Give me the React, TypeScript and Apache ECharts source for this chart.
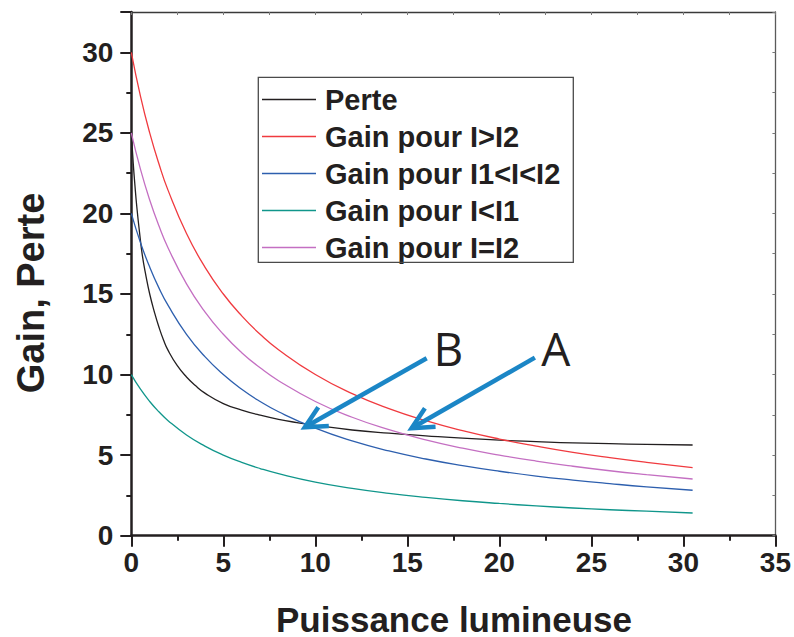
import React, { useEffect, useRef } from "react";
import * as echarts from "echarts";

// ---- data ----
const seriesNames = [
  "Perte",
  "Gain pour I>I2",
  "Gain pour I1<I<I2",
  "Gain pour I<I1",
  "Gain pour I=I2",
];
const seriesColors = ["#231f20", "#f03a3f", "#2d5fae", "#10968b", "#c46fc2"];

const xPerte = [0, 0.1, 0.2, 0.3, 0.45, 0.6, 0.8, 1, 1.25, 1.5, 1.75, 2, 2.5, 3, 3.5, 4, 5, 6, 7, 8, 9, 10, 12, 14, 16, 18, 20, 22, 24, 26, 28, 30.5];
const perte = [25.0, 23.2, 21.7, 20.4, 18.8, 17.4, 16.1, 15.0, 13.9, 12.95, 12.15, 11.5, 10.55, 9.85, 9.3, 8.85, 8.2, 7.8, 7.48, 7.22, 7.02, 6.85, 6.56, 6.36, 6.2, 6.05, 5.93, 5.84, 5.76, 5.71, 5.67, 5.63];

const xGain = [0, 0.5, 1, 1.5, 2, 3, 4, 5, 6, 7, 8, 10, 12, 14, 16, 18, 20, 22, 24, 26, 28, 30.5];
const gainHigh = [30, 27.27, 25, 23.08, 21.43, 18.75, 16.67, 15, 13.64, 12.5, 11.54, 10, 8.82, 7.89, 7.14, 6.52, 6, 5.56, 5.17, 4.84, 4.55, 4.23];
const gainMid = [20, 18.18, 16.67, 15.38, 14.29, 12.5, 11.11, 10, 9.09, 8.33, 7.69, 6.67, 5.88, 5.26, 4.76, 4.35, 4, 3.7, 3.45, 3.23, 3.03, 2.82];
const gainLow = [10, 9.09, 8.33, 7.69, 7.14, 6.25, 5.56, 5, 4.55, 4.17, 3.85, 3.33, 2.94, 2.63, 2.38, 2.17, 2, 1.85, 1.72, 1.61, 1.52, 1.41];
const gainEq = [25, 22.73, 20.83, 19.23, 17.86, 15.63, 13.89, 12.5, 11.36, 10.42, 9.62, 8.33, 7.35, 6.58, 5.95, 5.43, 5, 4.63, 4.31, 4.03, 3.79, 3.52];

const xAxisTitle = "Puissance lumineuse";
const yAxisTitle = "Gain, Perte";

// annotations (data coordinates)
const arrowLabels = ["B", "A"];
const arrowTails = [[16.05, 11.01], [21.93, 11.05]];
const arrowTips = [[9.43, 6.73], [15.23, 6.67]];
const labelPos = [[17.23, 11.62], [23.07, 11.62]];

const FONT = "'Liberation Sans', Arial, Helvetica, sans-serif";
const AXIS_COLOR = "#231f20";
const ARROW_COLOR = "#1b86c6";

function zip(xs: number[], ys: number[]) {
  return xs.map((x, i) => [x, ys[i]]);
}

export default function App() {
  const ref = useRef<HTMLDivElement>(null);
  useEffect(() => {
    if (!ref.current) return;
    const chart = echarts.init(ref.current, null, { renderer: "svg" });
    const dataSets = [
      zip(xPerte, perte),
      zip(xGain, gainHigh),
      zip(xGain, gainMid),
      zip(xGain, gainLow),
      zip(xGain, gainEq),
    ];
    const option: any = {
      animation: false,
      backgroundColor: "#ffffff",
      grid: { left: 131.3, right: 18.3, top: 12, bottom: 101.3, containLabel: false },
      xAxis: [
        {
          type: "value",
          min: 0,
          max: 35,
          interval: 5,
          axisLine: { show: true, onZero: false, lineStyle: { color: AXIS_COLOR, width: 2.5 } },
          axisTick: { show: true, inside: false, length: 11, lineStyle: { color: AXIS_COLOR, width: 2 } },
          minorTick: { show: true, splitNumber: 2, length: 5, lineStyle: { color: AXIS_COLOR, width: 2 } },
          splitLine: { show: false },
          axisLabel: { margin: 13, fontSize: 28, fontWeight: "bold", color: AXIS_COLOR, fontFamily: FONT },
        },
        {
          type: "value",
          position: "top",
          min: 0,
          max: 35,
          interval: 2.5,
          axisLine: { show: true, onZero: false, lineStyle: { color: "#3a3a3a", width: 1.3 } },
          axisTick: { show: true, inside: true, length: 3, lineStyle: { color: "#777", width: 1 } },
          splitLine: { show: false },
          axisLabel: { show: false },
        },
      ],
      yAxis: [
        {
          type: "value",
          min: 0,
          max: 32.5,
          interval: 5,
          axisLine: { show: true, onZero: false, lineStyle: { color: AXIS_COLOR, width: 2.5 } },
          axisTick: { show: true, inside: false, length: 11, lineStyle: { color: AXIS_COLOR, width: 2 } },
          minorTick: { show: true, splitNumber: 2, length: 5, lineStyle: { color: AXIS_COLOR, width: 2 } },
          splitLine: { show: false },
          axisLabel: {
            margin: 18,
            showMaxLabel: false,
            fontSize: 28,
            fontWeight: "bold",
            color: AXIS_COLOR,
            fontFamily: FONT,
          },
        },
        {
          type: "value",
          position: "right",
          min: 0,
          max: 32.5,
          interval: 2.5,
          axisLine: { show: true, onZero: false, lineStyle: { color: "#5a5a5a", width: 1.3 } },
          axisTick: { show: true, inside: true, length: 3, lineStyle: { color: "#777", width: 1 } },
          splitLine: { show: false },
          axisLabel: { show: false },
        },
      ],
      legend: {
        show: true,
        orient: "vertical",
        left: 258,
        top: 77,
        padding: [8, 10, 2, 4],
        icon: "rect",
        itemWidth: 54,
        itemHeight: 1.4,
        itemGap: 8,
        data: seriesNames,
        textStyle: {
          fontSize: 29,
          lineHeight: 29,
          fontWeight: "bold",
          color: AXIS_COLOR,
          fontFamily: FONT,
          padding: [0, 0, 0, 4],
        },
      },
      series: seriesNames.map((name, i) => ({
        name,
        type: "line",
        data: dataSets[i],
        smooth: 0.5,
        symbol: "none",
        showSymbol: false,
        lineStyle: { color: seriesColors[i], width: 1.3 },
        itemStyle: { color: seriesColors[i] },
        z: 3,
      })),
    };
    chart.setOption(option);

    const toPx = (p: number[]) =>
      chart.convertToPixel({ xAxisIndex: 0, yAxisIndex: 0 }, p) as number[];

    const graphics: any[] = [
      {
        type: "rect",
        shape: { x: 258.3, y: 77.3, width: 315, height: 185 },
        style: { fill: "none", stroke: "#4a4a4a", lineWidth: 1.3 },
        z: 5,
        silent: true,
      },
      {
        type: "text",
        x: 454,
        y: 619,
        style: {
          text: xAxisTitle,
          font: `bold 35px ${FONT}`,
          fill: AXIS_COLOR,
          textAlign: "center",
          textVerticalAlign: "middle",
        },
      },
      {
        type: "text",
        x: 31,
        y: 293,
        rotation: Math.PI / 2,
        style: {
          text: yAxisTitle,
          font: `bold 38px ${FONT}`,
          fill: AXIS_COLOR,
          textAlign: "center",
          textVerticalAlign: "middle",
        },
      },
    ];

    const ang = (26.5 * Math.PI) / 180;
    const barbLen = 24;
    arrowLabels.forEach((lab, i) => {
      const tail = toPx(arrowTails[i]);
      const tip = toPx(arrowTips[i]);
      const dx = tail[0] - tip[0];
      const dy = tail[1] - tip[1];
      const len = Math.sqrt(dx * dx + dy * dy);
      const bx = dx / len;
      const by = dy / len;
      const r = (a: number) => [
        tip[0] + barbLen * (bx * Math.cos(a) - by * Math.sin(a)),
        tip[1] + barbLen * (bx * Math.sin(a) + by * Math.cos(a)),
      ];
      graphics.push({
        type: "line",
        shape: { x1: tail[0], y1: tail[1], x2: tip[0] + bx * 2, y2: tip[1] + by * 2 },
        style: { stroke: ARROW_COLOR, lineWidth: 4.5, lineCap: "butt" },
        z: 10,
      });
      graphics.push({
        type: "polyline",
        shape: { points: [r(ang), tip, r(-ang)] },
        style: { stroke: ARROW_COLOR, lineWidth: 4.5, fill: "none", lineJoin: "miter", lineCap: "butt" },
        z: 10,
      });
      const lp = toPx(labelPos[i]);
      graphics.push({
        type: "text",
        x: lp[0],
        y: lp[1],
        style: {
          text: lab,
          font: `normal 46px 'Open Sans', 'Liberation Sans', sans-serif`,
          fill: AXIS_COLOR,
          textAlign: "center",
          textVerticalAlign: "middle",
        },
        z: 10,
      });
    });

    chart.setOption({ graphic: graphics });
    return () => chart.dispose();
  }, []);

  return (
    <div
      ref={ref}
      style={{ position: "fixed", left: 0, top: 0, width: 794, height: 637, background: "#fff" }}
    />
  );
}
